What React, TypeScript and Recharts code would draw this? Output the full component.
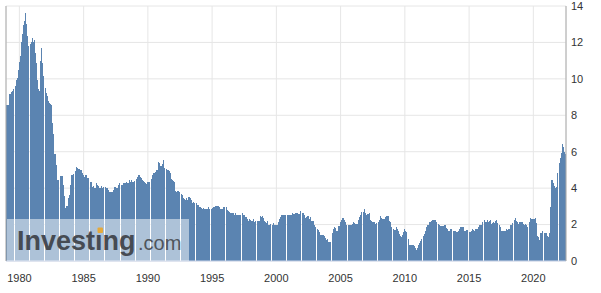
import React from 'react';
import { BarChart, Bar, XAxis, YAxis, CartesianGrid } from 'recharts';

// Monthly values (year-over-year %), Jan 1979 onward
const v1979_1983 = [
  8.57, 8.57, 8.57, 9.17, 9.17, 9.3, 9.35, 9.45, 9.6, 9.95, 10.05, 10.5,
  10.9, 11.26, 12.0, 12.45, 12.95, 13.2, 13.6, 13.0, 12.35, 11.8, 11.9, 12.0,
  12.27, 12.05, 12.15, 11.4, 10.85, 9.95, 9.45, 9.35, 11.0, 11.7, 10.85, 10.15,
  9.5, 9.2, 9.05, 8.8, 8.66, 8.6, 8.57, 7.55, 7.0, 5.87, 5.87, 5.27,
  4.45, 4.45, 4.67, 4.67, 4.67, 4.2, 3.55, 2.9, 3.0, 3.0, 3.45, 3.6,
];
const v1984_1988 = [
  4.2, 4.73, 4.73, 4.8, 4.95, 5.15, 5.1, 5.04, 5.04, 5.0, 5.0, 4.85,
  4.72, 4.63, 4.72, 4.72, 4.54, 4.54, 4.36, 4.36, 4.08, 4.1, 4.0, 4.0,
  4.3, 4.2, 4.1, 4.0, 4.0, 4.1, 4.0, 4.05, 4.05, 3.99, 3.99, 3.9,
  3.77, 3.77, 3.77, 3.77, 3.9, 4.08, 4.05, 4.0, 3.99, 4.17, 4.26, 4.2,
  4.17, 4.3, 4.3, 4.26, 4.36, 4.3, 4.3, 4.45, 4.36, 4.45, 4.36, 4.36,
];
const v1989_1993 = [
  4.4, 4.5, 4.63, 4.72, 4.7, 4.63, 4.54, 4.45, 4.4, 4.36, 4.3, 4.23,
  4.36, 4.36, 4.36, 4.5, 4.72, 4.85, 4.85, 4.9, 5.0, 5.0, 5.44, 5.37,
  5.22, 5.22, 5.3, 5.55, 5.09, 5.05, 5.0, 5.0, 4.95, 4.85, 4.49, 4.45,
  4.4, 4.36, 3.86, 3.77, 3.85, 3.86, 3.8, 3.68, 3.6, 3.44, 3.4, 3.35,
  3.44, 3.33, 3.53, 3.5, 3.44, 3.35, 3.2, 3.25, 3.2, 3.17, 3.08, 3.05,
];
const v1994_1998 = [
  2.95, 2.95, 2.9, 2.84, 2.9, 2.84, 2.84, 2.84, 2.88, 2.95, 2.84, 2.84,
  2.9, 2.95, 2.95, 3.0, 3.0, 3.02, 3.02, 2.98, 2.86, 2.86, 2.86, 2.97,
  2.97, 2.97, 2.82, 2.75, 2.7, 2.64, 2.64, 2.64, 2.64, 2.55, 2.64, 2.55,
  2.5, 2.5, 2.5, 2.5, 2.64, 2.55, 2.5, 2.4, 2.4, 2.3, 2.18, 2.3,
  2.25, 2.18, 2.18, 2.3, 2.12, 2.18, 2.18, 2.18, 2.18, 2.45, 2.4, 2.45,
];
const v1999_2003 = [
  2.35, 2.2, 2.12, 2.1, 2.18, 2.0, 2.0, 2.03, 1.95, 2.06, 2.0, 1.95,
  1.95, 1.98, 2.12, 2.3, 2.4, 2.5, 2.55, 2.55, 2.53, 2.53, 2.53, 2.53,
  2.53, 2.53, 2.55, 2.64, 2.6, 2.58, 2.64, 2.64, 2.64, 2.6, 2.58, 2.75,
  2.64, 2.64, 2.53, 2.34, 2.4, 2.47, 2.47, 2.3, 2.4, 2.2, 2.2, 2.2,
  2.0, 1.87, 1.75, 1.7, 1.58, 1.45, 1.45, 1.45, 1.44, 1.35, 1.26, 1.16,
];
const v2004_2008 = [
  1.2, 1.06, 1.06, 1.06, 1.52, 1.73, 1.87, 1.8, 1.67, 1.67, 1.9, 1.9,
  2.13, 2.25, 2.34, 2.34, 2.25, 2.13, 2.0, 2.0, 2.0, 2.0, 2.0, 2.05,
  2.13, 2.1, 2.05, 2.03, 2.03, 2.25, 2.4, 2.55, 2.7, 2.7, 2.84, 2.66,
  2.55, 2.6, 2.6, 2.66, 2.25, 2.2, 2.13, 2.13, 2.13, 2.05, 2.1, 2.13,
  2.25, 2.47, 2.35, 2.3, 2.3, 2.3, 2.4, 2.47, 2.47, 2.47, 2.2, 2.13,
];
const v2009_2013 = [
  1.87, 1.73, 1.7, 1.7, 1.87, 1.73, 1.65, 1.5, 1.39, 1.3, 1.45, 1.58,
  1.73, 1.65, 1.58, 1.23, 0.86, 0.86, 0.86, 0.86, 0.86, 0.82, 0.7, 0.59,
  0.71, 0.9, 1.0, 1.08, 1.2, 1.4, 1.5, 1.65, 1.89, 1.95, 2.0, 2.13,
  2.13, 2.2, 2.25, 2.25, 2.25, 2.25, 2.13, 2.05, 1.95, 1.9, 1.9, 1.9,
  1.9, 1.95, 1.95, 1.8, 1.73, 1.65, 1.63, 1.73, 1.73, 1.65, 1.65, 1.65,
];
const v2014_2018 = [
  1.58, 1.6, 1.65, 1.77, 1.85, 1.89, 1.89, 1.85, 1.65, 1.65, 1.7, 1.7,
  1.6, 1.58, 1.63, 1.73, 1.7, 1.65, 1.73, 1.73, 1.73, 1.89, 1.95, 1.95,
  2.0, 2.13, 2.25, 2.13, 2.13, 2.25, 2.13, 2.2, 2.25, 2.05, 2.1, 2.13,
  2.1, 2.2, 2.25, 2.1, 1.95, 1.89, 1.67, 1.67, 1.67, 1.67, 1.67, 1.73,
  1.7, 1.73, 1.73, 1.98, 2.0, 2.1, 2.25, 2.36, 2.2, 2.14, 2.03, 2.14,
];
const v2019_2022 = [
  2.14, 2.14, 2.14, 2.03, 2.0, 2.03, 1.95, 1.89, 2.14, 2.36, 2.3, 2.3,
  2.3, 2.3, 2.36, 2.1, 1.4, 1.3, 1.15, 1.52, 1.52, 1.65, 1.52, 1.52,
  1.52, 1.37, 1.3, 1.52, 2.95, 4.45, 4.45, 4.27, 4.1, 4.0, 4.07, 4.85,
  5.4, 5.65, 5.92, 6.43, 6.28, 6.0, 5.88,
];

const START_YEAR = 1979;
const yearTicks = ['1980', '1985', '1990', '1995', '2000', '2005', '2010', '2015', '2020'];
const yTicks = [0, 2, 4, 6, 8, 10, 12, 14];

const allValues = [
  ...v1979_1983, ...v1984_1988, ...v1989_1993, ...v1994_1998, ...v1999_2003,
  ...v2004_2008, ...v2009_2013, ...v2014_2018, ...v2019_2022,
];

const data = allValues.map((v, i) => {
  const y = START_YEAR + Math.floor(i / 12);
  const m = (i % 12) + 1;
  return { m: `${y}-${m < 10 ? '0' + m : m}`, v };
});

const xTickCats = yearTicks.map((y) => `${y}-01`);

const FONT = '"Liberation Sans", Arial, sans-serif';

export default function App() {
  return (
    <div style={{ position: 'absolute', left: 0, top: 0, width: 601, height: 293, background: '#fff' }}>
      <BarChart
        width={601}
        height={293}
        data={data}
        margin={{ top: 6, right: 0, bottom: 0, left: 5 }}
        barCategoryGap={0}
        barGap={0}
      >
        <CartesianGrid stroke="#e6e6e6" />
        <XAxis
          dataKey="m"
          ticks={xTickCats}
          interval={0}
          tickFormatter={(s: string) => s.slice(0, 4)}
          tickLine={false}
          tickSize={6}
          tickMargin={7}
          height={32}
          axisLine={{ stroke: '#ccd6eb' }}
          tick={{ fill: '#333', fontSize: 11, fontFamily: FONT }}
        />
        <YAxis
          yAxisId="left"
          orientation="left"
          width={1}
          domain={[0, 14]}
          ticks={yTicks}
          tick={false}
          tickLine={false}
          axisLine={{ stroke: '#aaa' }}
        />
        <YAxis
          orientation="right"
          width={35}
          domain={[0, 14]}
          ticks={yTicks}
          tickLine={false}
          tickSize={3}
          tickMargin={2}
          axisLine={{ stroke: '#aaa' }}
          tick={{ fill: '#333', fontSize: 11, fontFamily: FONT, textAnchor: 'start' }}
        />
        <Bar
          dataKey="v"
          fill="#5b84b1"
          barSize={1}
          shapeRendering="crispEdges"
          isAnimationActive={false}
        />
      </BarChart>
      <svg
        width={601}
        height={293}
        style={{ position: 'absolute', left: 0, top: 0, pointerEvents: 'none' }}
      >
        <rect x={7} y={219} width={182} height={42} fill="#fff" fillOpacity={0.5} />
        <text x={17} y={249.5} fontFamily={FONT} fontWeight="bold" fontSize={27} fill="#464b53">
          Investıng
        </text>
        <rect x={97.5} y={227.5} width={5.5} height={5.5} rx={1} fill="#e5a93b" />
        <text x={138} y={249.5} fontFamily={FONT} fontSize={20} fill="#50555c">
          .com
        </text>
      </svg>
    </div>
  );
}
